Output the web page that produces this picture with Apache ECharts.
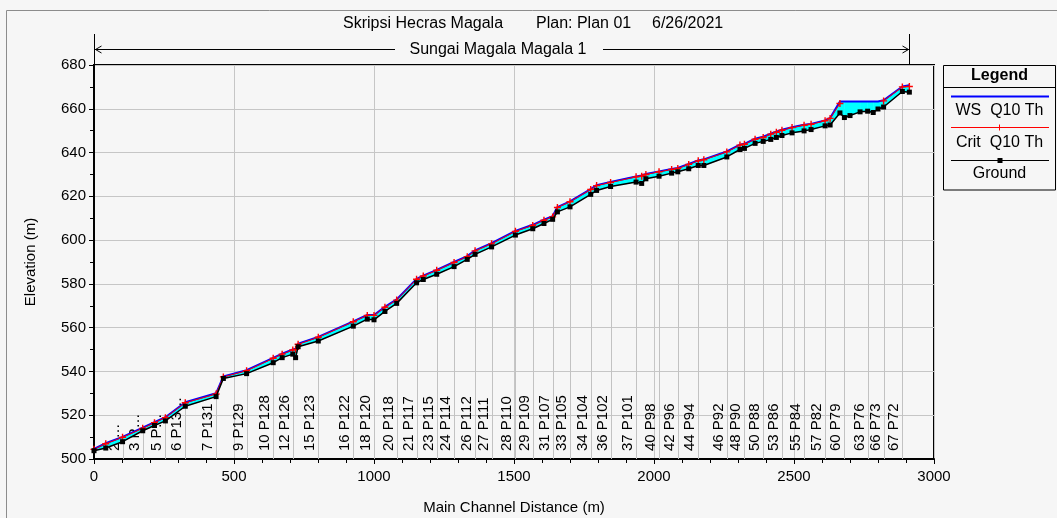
<!DOCTYPE html>
<html><head><meta charset="utf-8">
<script src="https://cdn.jsdelivr.net/npm/echarts@6/dist/echarts.min.js"></script>
<style>html,body{margin:0;padding:0;background:#f6f6f6}#c{width:1057px;height:518px}</style>
</head><body><div id="c"></div>
<script>
// Main channel distance of each cross-section (m)
const stations = [0, 42, 102, 174, 216, 255, 326, 436, 462, 545, 640, 672, 710, 720, 729, 801, 926, 976, 1000, 1039,
  1081, 1152, 1176, 1224, 1286, 1333, 1361, 1420, 1505, 1567, 1607, 1638, 1655, 1700, 1774, 1795, 1845, 1936, 1956, 1971,
  2018, 2063, 2085, 2124, 2158, 2178, 2260, 2307, 2323, 2361, 2390, 2417, 2437, 2457, 2493, 2536, 2561, 2611, 2629, 2664,
  2680, 2700, 2736, 2763, 2783, 2800, 2820, 2887, 2912];
// Ground (channel bed) elevation (m)
const ground = [503.8, 505.0, 507.9, 512.9, 515.3, 517.4, 524.1, 528.5, 536.8, 539.0, 544.0, 546.3, 547.9, 546.3, 551.3, 553.9, 560.7, 563.9, 563.6, 567.4,
  571.1, 580.5, 582.0, 584.4, 587.9, 591.2, 593.5, 596.9, 602.3, 605.2, 607.6, 609.5, 612.9, 615.2, 620.9, 622.7, 624.5, 626.5, 625.9, 628.0,
  629.2, 630.6, 631.2, 632.6, 634.1, 634.1, 638.0, 641.4, 641.9, 644.2, 645.1, 646.0, 646.9, 647.8, 649.0, 649.9, 650.5, 652.2, 652.6, 658.1,
  656.0, 656.9, 658.6, 658.9, 658.3, 659.9, 660.8, 667.9, 667.6];
// Water surface WS Q10 Th (m)
const waterSurface = [504.6, 507.2, 510.1, 514.3, 516.8, 519.1, 525.9, 530.0, 537.7, 540.6, 546.2, 548.1, 550.0, 550.4, 552.7, 555.8, 562.9, 565.8, 565.8, 569.5,
  572.9, 582.3, 583.8, 586.4, 590.0, 592.7, 595.3, 598.6, 604.2, 607.0, 609.3, 610.9, 615.1, 617.7, 623.3, 625.1, 626.6, 629.1, 629.5, 630.2,
  631.4, 632.5, 633.0, 634.8, 636.4, 636.9, 640.5, 643.6, 644.0, 646.3, 647.2, 648.6, 649.5, 650.4, 651.6, 652.7, 653.1, 654.7, 655.8, 663.3,
  663.3, 663.3, 663.3, 663.3, 663.3, 663.3, 663.9, 670.2, 670.8];
// Critical water surface Crit Q10 Th (m)
const critical = [504.4, 507.0, 509.9, 514.0, 516.6, 518.9, 525.7, 529.7, 537.5, 540.3, 546.0, 547.9, 549.8, 550.1, 552.4, 555.6, 562.7, 565.6, 565.6, 569.3,
  572.6, 582.1, 583.6, 586.2, 589.8, 592.4, 595.1, 598.3, 604.0, 606.7, 609.1, 610.6, 614.9, 617.5, 623.1, 624.9, 626.3, 628.9, 629.2, 630.0,
  631.2, 632.3, 632.7, 634.6, 636.2, 636.7, 640.3, 643.4, 643.8, 646.1, 646.9, 648.4, 649.3, 650.2, 651.4, 652.5, 652.9, 654.5, 655.6, 662.4,
  null, null, null, null, null, null, 663.6, 670.0, 670.2];
// Cross-section labels shown along the bottom ('' = not shown)
const sectionLabels = ['', '', '2 \u2026', '3 P\u2026', '', '5 P\u2026', '6 P13\u2026', '7 P131', '', '9 P129', '10 P128', '', '12 P126', '', '', '15 P123', '16 P122', '', '18 P120', '',
  '20 P118', '21 P117', '', '23 P115', '24 P114', '', '26 P112', '27 P111', '28 P110', '29 P109', '', '31 P107', '', '33 P105', '34 P104', '', '36 P102', '37 P101', '', '',
  '40 P98', '', '42 P96', '', '44 P94', '', '46 P92', '', '48 P90', '', '50 P88', '', '', '53 P86', '', '55 P84', '', '57 P82', '', '',
  '60 P79', '', '', '63 P76', '', '', '66 P73', '67 P72', ''];

const xMin = 0, xMax = 3000, xStep = 500;
const yMin = 500, yMax = 680, yStep = 20;

const FONT = '"Liberation Sans", Arial, sans-serif';
const chart = echarts.init(document.getElementById('c'), null, {renderer: 'canvas'});

const groundPts = stations.map((s, i) => [s, ground[i]]);
const wsPts = stations.map((s, i) => [s, waterSurface[i]]);
const critPts = stations.map((s, i) => [s, critical[i]]);
const secData = stations.map((s, i) => [s, ground[i], i]);
// fill segments between consecutive sections: [x0, g0, w0, x1, g1, w1]
const fillSegs = stations.slice(0, -1).map((s, i) => [s, ground[i], waterSurface[i], stations[i + 1], ground[i + 1], waterSurface[i + 1]]);

const plusPath = 'path://M2,0H3V2H5V3H3V5H2V3H0V2H2Z';

const option = {
  animation: false,
  backgroundColor: 'transparent',
  grid: {left: 94, top: 65, width: 840, height: 394, show: true, borderColor: '#000', borderWidth: 2,
    backgroundColor: 'transparent', containLabel: false, outerBoundsMode: 'none'},
  xAxis: {
    type: 'value', min: xMin, max: xMax, interval: xStep,
    name: 'Main Channel Distance (m)', nameLocation: 'middle', nameGap: 41,
    nameTextStyle: {color: '#000', fontSize: 15, fontFamily: FONT},
    axisLine: {onZero: false, lineStyle: {color: '#000', width: 2}},
    axisTick: {length: 5, lineStyle: {color: '#000'}},
    minorTick: {show: true, splitNumber: 5, length: 4, lineStyle: {color: '#000'}},
    axisLabel: {color: '#000', fontSize: 15, fontFamily: FONT, margin: 10, formatter: v => String(v)},
    splitLine: {show: true, lineStyle: {color: '#c6c6c6', width: 1}}
  },
  yAxis: {
    type: 'value', min: yMin, max: yMax, interval: yStep,
    name: 'Elevation (m)', nameLocation: 'middle', nameGap: 56,
    nameTextStyle: {color: '#000', fontSize: 15, fontFamily: FONT},
    axisLine: {onZero: false, lineStyle: {color: '#000', width: 2}},
    axisTick: {length: 5, lineStyle: {color: '#000'}},
    minorTick: {show: true, splitNumber: 2, length: 4, lineStyle: {color: '#000'}},
    axisLabel: {color: '#000', fontSize: 15, fontFamily: FONT, margin: 8, formatter: v => String(v)},
    splitLine: {show: true, lineStyle: {color: '#c6c6c6', width: 1}}
  },
  series: [
    {
      name: 'sections', type: 'custom', z: 1, silent: true,
      data: secData,
      renderItem: function (params, api) {
        const i = api.value(2);
        const lab = sectionLabels[i];
        if (!lab) return null;
        const top = api.coord([api.value(0), api.value(1)]);
        const bot = api.coord([api.value(0), yMin]);
        const lx = Math.round(top[0]) + 0.5;
        return {
          type: 'group', children: [
            {type: 'line', shape: {x1: lx, y1: top[1], x2: lx, y2: bot[1]}, style: {stroke: '#c2c2c2', lineWidth: 1}},
            {type: 'text', x: lx - 1, y: bot[1] - 8, rotation: Math.PI / 2,
              style: {text: lab, fill: '#000', font: '15px ' + FONT, align: 'left', verticalAlign: 'bottom'}}
          ]
        };
      }
    },
    {
      name: 'wsFill', type: 'custom', z: 2, silent: true,
      data: fillSegs,
      renderItem: function (params, api) {
        const a = api.coord([api.value(0), api.value(1)]);
        const b = api.coord([api.value(0), api.value(2)]);
        const c = api.coord([api.value(3), api.value(5)]);
        const d = api.coord([api.value(3), api.value(4)]);
        return {type: 'polygon', shape: {points: [a, b, c, d]}, style: {fill: '#00ffff', stroke: '#00ffff', lineWidth: 0.5}};
      }
    },
    {name: 'WS Q10 Th', type: 'line', data: wsPts, symbol: 'none', z: 3,
      lineStyle: {color: '#0000ff', width: 2}},
    {name: 'Crit Q10 Th', type: 'line', data: critPts, connectNulls: false, z: 4,
      symbol: plusPath, symbolSize: 7, itemStyle: {color: '#ff0000'},
      lineStyle: {color: '#ff0000', width: 1}},
    {name: 'Ground', type: 'line', data: groundPts, z: 5,
      symbol: 'rect', symbolSize: 5, itemStyle: {color: '#000'},
      lineStyle: {color: '#000', width: 1.5}}
  ]
};
chart.setOption(option);

// Annotation graphics (titles, reach arrow, legend)
const pL = chart.convertToPixel({gridIndex: 0}, [stations[0], yMax]);
const pR = chart.convertToPixel({gridIndex: 0}, [stations[stations.length - 1], yMax]);
const xl = Math.round(pL[0]) + 0.5, xr = Math.round(pR[0]) + 0.5, ay = 49.5;
const textMid = (xl + xr) / 2 - 4;
const halfText = 88;
const t16 = '16px ' + FONT;
const legX = 943.5, legW = 112;
const legC = legX + legW / 2;
chart.setOption({
  graphic: [
    {type: 'rect', z: 0, shape: {x: 6.5, y: 10.5, width: 1200, height: 700}, style: {fill: 'none', stroke: '#8c8c8c', lineWidth: 1}},
    {type: 'text', x: 343, y: 24, style: {text: 'Skripsi Hecras Magala', font: t16, fill: '#000', verticalAlign: 'middle'}},
    {type: 'text', x: 536, y: 24, style: {text: 'Plan: Plan 01', font: t16, fill: '#000', verticalAlign: 'middle'}},
    {type: 'text', x: 652, y: 24, style: {text: '6/26/2021', font: t16, fill: '#000', verticalAlign: 'middle'}},
    {type: 'text', x: textMid, y: 50, style: {text: 'Sungai Magala Magala 1', font: t16, fill: '#000', align: 'center', verticalAlign: 'middle'}},
    {type: 'line', shape: {x1: xl, y1: ay, x2: textMid - halfText - 15, y2: ay}, style: {stroke: '#000', lineWidth: 1}},
    {type: 'line', shape: {x1: textMid + halfText + 17, y1: ay, x2: xr, y2: ay}, style: {stroke: '#000', lineWidth: 1}},
    {type: 'polyline', shape: {points: [[xl + 7, ay - 3.5], [xl + 1, ay], [xl + 7, ay + 3.5]]}, style: {stroke: '#000', fill: 'none', lineWidth: 1}},
    {type: 'polyline', shape: {points: [[xr - 7, ay - 3.5], [xr - 1, ay], [xr - 7, ay + 3.5]]}, style: {stroke: '#000', fill: 'none', lineWidth: 1}},
    {type: 'line', shape: {x1: xl, y1: 34, x2: xl, y2: 65}, style: {stroke: '#000', lineWidth: 1}},
    {type: 'line', shape: {x1: xr, y1: 34, x2: xr, y2: 65}, style: {stroke: '#000', lineWidth: 1}},
    // legend
    {type: 'rect', shape: {x: legX, y: 65.5, width: legW, height: 124.5}, style: {fill: 'none', stroke: '#000', lineWidth: 1}},
    {type: 'line', shape: {x1: legX, y1: 87.5, x2: legX + legW, y2: 87.5}, style: {stroke: '#000', lineWidth: 1}},
    {type: 'text', x: legC, y: 76, style: {text: 'Legend', font: 'bold 16px ' + FONT, fill: '#000', align: 'center', verticalAlign: 'middle'}},
    {type: 'line', shape: {x1: 951, y1: 96.5, x2: 1049, y2: 96.5}, style: {stroke: '#0000ff', lineWidth: 2}},
    {type: 'text', x: legC, y: 111, style: {text: 'WS  Q10 Th', font: t16, fill: '#000', align: 'center', verticalAlign: 'middle'}},
    {type: 'line', shape: {x1: 951, y1: 127.5, x2: 1049, y2: 127.5}, style: {stroke: '#ff0000', lineWidth: 1}},
    {type: 'rect', shape: {x: 999, y: 124.5, width: 1, height: 6}, style: {fill: '#ff0000'}},
    {type: 'rect', shape: {x: 997, y: 127, width: 6, height: 1}, style: {fill: '#ff0000'}},
    {type: 'text', x: legC, y: 143, style: {text: 'Crit  Q10 Th', font: t16, fill: '#000', align: 'center', verticalAlign: 'middle'}},
    {type: 'line', shape: {x1: 951, y1: 160.5, x2: 1049, y2: 160.5}, style: {stroke: '#000', lineWidth: 1}},
    {type: 'rect', shape: {x: 997.5, y: 158, width: 5, height: 5}, style: {fill: '#000'}},
    {type: 'text', x: legC, y: 174, style: {text: 'Ground', font: t16, fill: '#000', align: 'center', verticalAlign: 'middle'}}
  ]
});
</script>
</body></html>
